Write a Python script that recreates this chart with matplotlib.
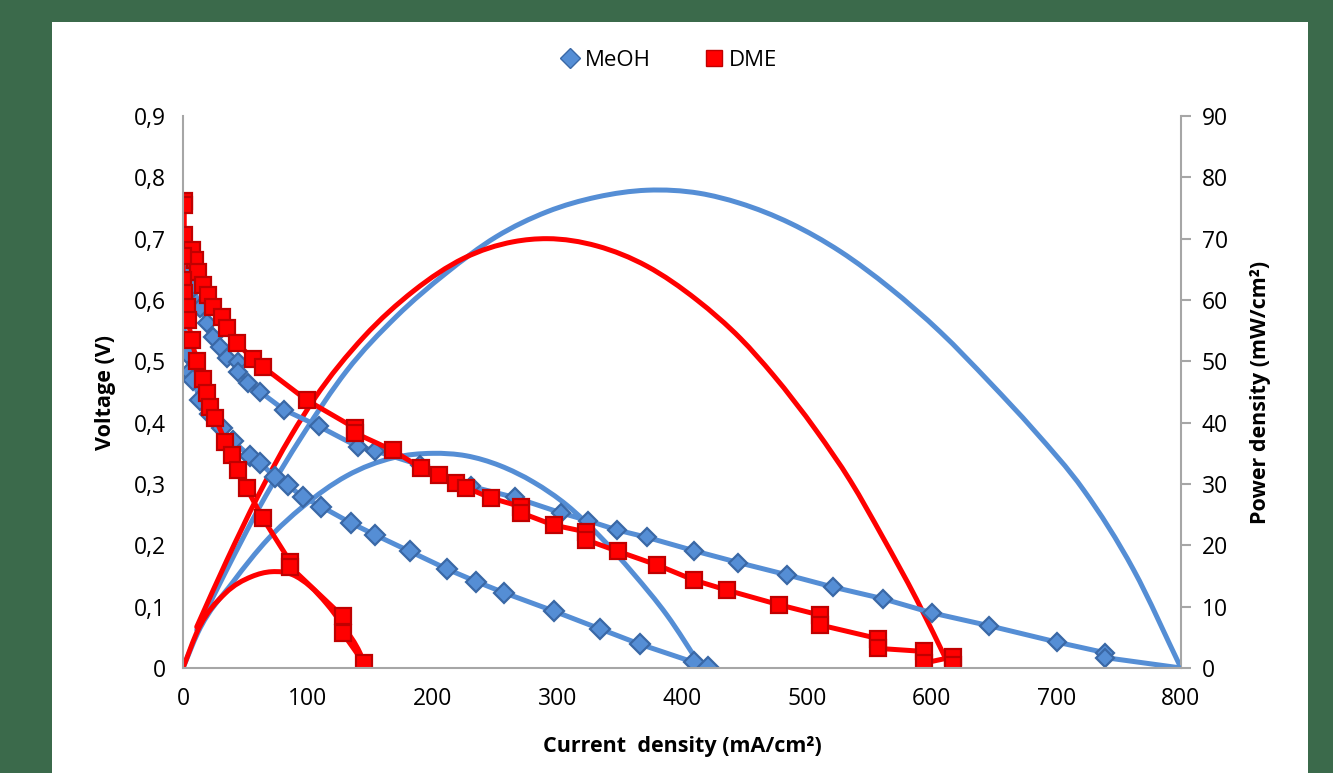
import matplotlib.pyplot as plt
from matplotlib.patches import Rectangle, PathPatch
from matplotlib.path import Path

# polarization data (current density mA/cm2, voltage V)
meoh_a_i = [0, 3, 8, 14, 19, 24, 30, 35, 44, 44, 52, 62, 81, 109, 140, 154, 190, 231, 266, 303,
            325, 348, 372, 410, 445, 484, 521, 561, 600, 646, 701, 739, 739, 800]
meoh_a_v = [0.652, 0.641, 0.620, 0.587, 0.563, 0.540, 0.524, 0.505, 0.499, 0.483, 0.465, 0.450,
            0.421, 0.394, 0.361, 0.354, 0.331, 0.296, 0.278, 0.253, 0.240, 0.225, 0.213, 0.191,
            0.172, 0.152, 0.132, 0.113, 0.090, 0.069, 0.042, 0.025, 0.017, 0.0]

meoh_b_i = [0, 0, 0, 3, 6, 8, 14, 22, 31, 40, 54, 62, 74, 84, 96, 111, 135, 154, 182, 212,
            235, 257, 297, 334, 366, 410, 421]
meoh_b_v = [0.611, 0.589, 0.571, 0.514, 0.483, 0.470, 0.437, 0.414, 0.391, 0.370, 0.345, 0.334,
            0.311, 0.298, 0.279, 0.263, 0.236, 0.217, 0.190, 0.161, 0.141, 0.123, 0.093, 0.064,
            0.039, 0.009, 0.002]

dme_a_i = [1, 1, 1, 7, 10, 12, 16, 20, 24, 31, 35, 43, 56, 64, 99, 138, 138, 168, 191, 205, 219,
           227, 247, 271, 271, 297, 323, 323, 349, 380, 410, 436, 478, 511, 511, 557, 557, 594,
           594, 617, 617]
dme_a_v = [0.762, 0.755, 0.706, 0.682, 0.665, 0.646, 0.624, 0.608, 0.589, 0.573, 0.554, 0.530,
           0.504, 0.491, 0.437, 0.391, 0.383, 0.355, 0.326, 0.315, 0.301, 0.294, 0.277, 0.263,
           0.253, 0.233, 0.222, 0.209, 0.190, 0.168, 0.143, 0.127, 0.103, 0.086, 0.070, 0.048,
           0.032, 0.027, 0.008, 0.018, 0.005]

dme_b_i = [0, 0, 1, 3, 4, 7, 11, 16, 19, 22, 26, 34, 39, 44, 51, 64, 86, 86, 128, 128, 145]
dme_b_v = [0.671, 0.633, 0.611, 0.589, 0.567, 0.535, 0.500, 0.472, 0.448, 0.426, 0.407, 0.369,
           0.347, 0.323, 0.293, 0.244, 0.173, 0.165, 0.084, 0.057, 0.008]

# power density curves (mA/cm2, mW/cm2)
meoh_pa_i = [11, 35, 62, 96, 131, 171, 211, 251, 292, 332, 372, 414, 446, 487, 527, 567, 607,
             647, 682, 722, 762, 800]
meoh_pa_p = [6.2, 16.0, 26.5, 38.0, 48.4, 57.3, 64.4, 70.3, 74.4, 76.8, 77.9, 77.4, 75.8, 72.5,
             67.9, 61.9, 54.8, 46.5, 38.8, 29.0, 16.0, 0.0]

meoh_pb_i = [0, 12, 40, 68, 96, 131, 169, 200, 227, 254, 281, 308, 334, 361, 388, 415]
meoh_pb_p = [0, 5.8, 14.0, 21.0, 26.3, 31.3, 34.3, 35.0, 34.6, 33.0, 30.3, 26.5, 21.5, 15.4,
             8.6, 0.3]

dme_pa_i = [11, 35, 60, 87, 105, 145, 185, 225, 265, 292, 332, 372, 412, 447, 473, 508, 535,
            561, 588, 615]
dme_pa_p = [6.7, 17.5, 28.0, 38.0, 43.8, 54.0, 61.5, 66.8, 69.5, 70.0, 68.8, 65.5, 60.0, 53.7,
            47.8, 38.6, 30.5, 21.3, 11.2, 0.0]

dme_pb_i = [0, 12, 34, 55, 71, 88, 102, 115, 129, 142, 147]
dme_pb_p = [0, 6.2, 12.2, 14.9, 15.7, 15.2, 13.3, 10.5, 6.7, 2.4, 0.0]

blue = '#558ed5'
blue_edge = '#3a68a6'
red = '#ff0000'
red_edge = '#c00000'


def smooth_path(xs, ys):
    # smoothed line like Excel's: cubic Hermite pieces written as Bezier curves
    n = len(xs)
    m = []
    for k in range(n):
        if k == 0:
            m.append((ys[1] - ys[0]) / (xs[1] - xs[0]))
        elif k == n - 1:
            m.append((ys[-1] - ys[-2]) / (xs[-1] - xs[-2]))
        else:
            h0 = xs[k] - xs[k - 1]
            h1 = xs[k + 1] - xs[k]
            d0 = (ys[k] - ys[k - 1]) / h0
            d1 = (ys[k + 1] - ys[k]) / h1
            m.append((d0 * h1 + d1 * h0) / (h0 + h1))
    verts = [(xs[0], ys[0])]
    codes = [Path.MOVETO]
    for k in range(n - 1):
        h = xs[k + 1] - xs[k]
        verts += [(xs[k] + h / 3, ys[k] + m[k] * h / 3),
                  (xs[k + 1] - h / 3, ys[k + 1] - m[k + 1] * h / 3),
                  (xs[k + 1], ys[k + 1])]
        codes += [Path.CURVE4] * 3
    return Path(verts, codes)


plt.rcParams['font.family'] = ['Open Sans', 'DejaVu Sans']

fig = plt.figure(figsize=(13.33, 7.73), dpi=100, facecolor='#3b6a4b')
fig.patches.append(Rectangle((52 / 1333, 0), (1308 - 52) / 1333, (773 - 22) / 773,
                             transform=fig.transFigure, facecolor='white', edgecolor='none',
                             zorder=-5))

ax = fig.add_axes([183 / 1333, 105 / 773, (1181 - 183) / 1333, (668 - 116) / 773])
ax2 = ax.twinx()
ax.set_zorder(2)
ax2.set_zorder(1)
ax.patch.set_visible(False)
ax2.patch.set_visible(False)

# power curves (right axis), smoothed
for xs, ys, c in [(meoh_pa_i, meoh_pa_p, blue), (meoh_pb_i, meoh_pb_p, blue),
                  (dme_pa_i, dme_pa_p, red), (dme_pb_i, dme_pb_p, red)]:
    ax2.add_patch(PathPatch(smooth_path(xs, ys), facecolor='none', edgecolor=c, lw=3.6,
                            capstyle='round', joinstyle='round'))

# polarization curves (left axis)
bk = dict(lw=3.6, markeredgewidth=1.6)
ax.plot(meoh_a_i, meoh_a_v, color=blue, marker='D', markersize=9, markerfacecolor=blue,
        markeredgecolor=blue_edge, markevery=slice(0, -1), **bk)
ax.plot(meoh_b_i, meoh_b_v, color=blue, marker='D', markersize=10, markerfacecolor=blue,
        markeredgecolor=blue_edge, **bk)
ax.plot(dme_a_i, dme_a_v, color=red, marker='s', markersize=11, markerfacecolor=red,
        markeredgecolor=red_edge, **bk)
ax.plot(dme_b_i, dme_b_v, color=red, marker='s', markersize=11, markerfacecolor=red,
        markeredgecolor=red_edge, **bk)

ax.set_xlim(0, 800)
ax.set_ylim(0, 0.9)
ax2.set_ylim(0, 90)
ax.set_xticks(range(0, 801, 100))
ax.set_yticks([i / 10 for i in range(10)])
ax.set_yticklabels(['0'] + ['0,%d' % i for i in range(1, 10)])
ax2.set_yticks(range(0, 91, 10))

for a in (ax, ax2):
    for s in a.spines.values():
        s.set_color('#a6a6a6')
        s.set_linewidth(1.5)
    a.spines['top'].set_visible(False)
ax.spines['right'].set_visible(False)
ax2.spines['left'].set_visible(False)
ax2.spines['bottom'].set_visible(False)

ax.tick_params(axis='both', length=0, labelsize=16.5)
ax.tick_params(axis='x', pad=14)
ax.tick_params(axis='y', pad=12)
ax2.tick_params(axis='y', length=7, width=1.5, color='#a6a6a6', labelsize=16.5, pad=8)

ax.set_xlabel('Current  density (mA/cm²)', fontsize=15.5, fontweight='bold', labelpad=18)
ax.set_ylabel('Voltage (V)', fontsize=15.5, fontweight='bold', labelpad=13)
ax2.set_ylabel('Power density (mW/cm²)', fontsize=15.5, fontweight='bold', labelpad=16)

leg_h1, = ax.plot([], [], ls='none', marker='D', markersize=10, markerfacecolor=blue,
                  markeredgecolor=blue_edge)
leg_h2, = ax.plot([], [], ls='none', marker='s', markersize=11, markerfacecolor=red,
                  markeredgecolor=red_edge)
fig.legend([leg_h1, leg_h2], ['MeOH', 'DME'], loc='center', bbox_to_anchor=(668 / 1333, 1 - 60 / 773),
           ncol=2, frameon=False, fontsize=16, handletextpad=0.2, columnspacing=2.3,
           handlelength=1.0)

fig.savefig('out.png', dpi=100, facecolor=fig.get_facecolor())
